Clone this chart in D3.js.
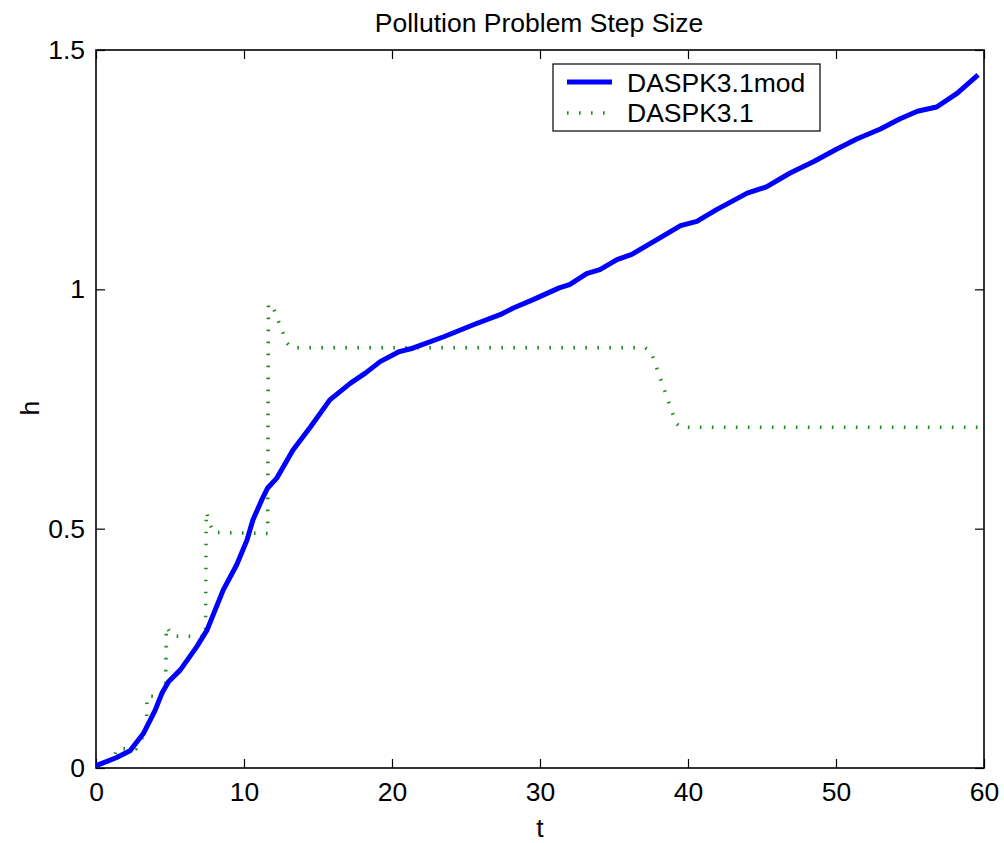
<!DOCTYPE html>
<html><head><meta charset="utf-8">
<script src="https://cdn.jsdelivr.net/npm/d3@7"></script>
<style>body{margin:0;background:#fff}svg{display:block}text{font-family:"Liberation Sans",Arial,sans-serif;fill:#000}</style>
</head><body><svg id="c" width="1004" height="843"></svg>
<script>
const modT = [0, 0.1, 1.4, 2.3, 3.2, 4.0, 4.45, 4.9, 5.7, 6.8, 7.5, 8.6, 9.5, 10.2, 10.6, 11.2, 11.6, 12.2, 13.3, 14.5, 15.8, 17.2, 18.2, 19.2, 20.5, 21.4, 23.5, 25.5, 27.3, 28.2, 29.5, 31.3, 32.0, 33.15, 34.05, 35.2, 36.2, 37.9, 39.5, 40.6, 41.9, 44.0, 45.3, 46.9, 48.5, 50.0, 51.4, 53.0, 54.3, 55.5, 56.8, 58.2, 59.6];
const modH = [0.004, 0.006, 0.022, 0.036, 0.072, 0.121, 0.156, 0.18, 0.205, 0.253, 0.288, 0.372, 0.424, 0.476, 0.518, 0.56, 0.585, 0.605, 0.664, 0.713, 0.769, 0.804, 0.825, 0.849, 0.87, 0.877, 0.901, 0.926, 0.947, 0.961, 0.978, 1.003, 1.01, 1.033, 1.041, 1.062, 1.073, 1.104, 1.133, 1.142, 1.166, 1.201, 1.214, 1.243, 1.267, 1.292, 1.314, 1.335, 1.356, 1.372, 1.381, 1.41, 1.448];
const stdT = [0, 0.6, 1.2, 1.4, 2.7, 2.9, 3.4, 3.45, 4.3, 4.7, 4.75, 5.2, 7.4, 7.45, 7.9, 11.6, 11.65, 12.0, 12.9, 13.2, 37.1, 37.5, 39.2, 39.5, 60];
const stdH = [0.005, 0.01, 0.02, 0.04, 0.04, 0.05, 0.08, 0.15, 0.15, 0.16, 0.295, 0.275, 0.275, 0.535, 0.492, 0.49, 0.97, 0.96, 0.888, 0.878, 0.878, 0.87, 0.72, 0.712, 0.712];
const xTicks = [0, 10, 20, 30, 40, 50, 60];
const yTicks = [0, 0.5, 1, 1.5];
const seriesNames = ["DASPK3.1mod", "DASPK3.1"];
const titleText = "Pollution Problem Step Size";

const L = 96, R = 984, T = 50, B = 768;
const svg = d3.select("#c");
const x = d3.scaleLinear().domain([0, 60]).range([L, R]);
const y = d3.scaleLinear().domain([0, 1.5]).range([B, T]);
const fs = 26.5;

const gx = svg.append("g").attr("transform", `translate(0,${B})`)
  .call(d3.axisBottom(x).tickValues(xTicks).tickFormat(d3.format("d")).tickSizeInner(-9).tickSizeOuter(0).tickPadding(14));
const gxTop = svg.append("g").attr("transform", `translate(0,${T})`)
  .call(d3.axisTop(x).tickValues(xTicks).tickFormat("").tickSizeInner(-9).tickSizeOuter(0));
const gy = svg.append("g").attr("transform", `translate(${L},0)`)
  .call(d3.axisLeft(y).tickValues(yTicks).tickFormat(d => d3.format("")(d)).tickSizeInner(-9).tickSizeOuter(0).tickPadding(11));
const gyR = svg.append("g").attr("transform", `translate(${R},0)`)
  .call(d3.axisRight(y).tickValues(yTicks).tickFormat("").tickSizeInner(-9).tickSizeOuter(0));
[gx, gxTop, gy, gyR].forEach(g => {
  g.select(".domain").remove();
  g.selectAll("line").attr("stroke", "#000").attr("stroke-width", 1.2);
  g.selectAll("text").style("font-size", fs + "px").attr("fill", "#000");
});

svg.append("rect").attr("x", L).attr("y", T).attr("width", R - L).attr("height", B - T)
  .attr("fill", "none").attr("stroke", "#000").attr("stroke-width", 1.6);

const line = d3.line().x(d => x(d[0])).y(d => y(d[1]));
svg.append("clipPath").attr("id", "clp").append("rect").attr("x", L).attr("y", T).attr("width", R - L).attr("height", B - T);
const plot = svg.append("g").attr("clip-path", "url(#clp)");

plot.append("path").datum(stdT.map((t, i) => [t, stdH[i]])).attr("d", line)
  .attr("fill", "none").attr("stroke", "#1f8a1f").attr("stroke-width", 3.5).attr("stroke-dasharray", "1.6 10.4");
plot.append("path").datum(modT.map((t, i) => [t, modH[i]])).attr("d", line)
  .attr("fill", "none").attr("stroke", "#0000ff").attr("stroke-width", 5).attr("stroke-linejoin", "round");

svg.append("text").attr("x", (L + R) / 2 - 1).attr("y", 32).attr("text-anchor", "middle").style("font-size", fs + "px").text(titleText);
svg.append("text").attr("x", (L + R) / 2).attr("y", 837).attr("text-anchor", "middle").style("font-size", fs + "px").text("t");
svg.append("text").attr("transform", "translate(39,408) rotate(-90)").attr("text-anchor", "middle").style("font-size", fs + "px").text("h");

const lg = svg.append("g");
lg.append("rect").attr("x", 553).attr("y", 64).attr("width", 267).attr("height", 67).attr("fill", "#fff").attr("stroke", "#000").attr("stroke-width", 1.2);
lg.append("line").attr("x1", 567).attr("x2", 612).attr("y1", 82).attr("y2", 82).attr("stroke", "#0000ff").attr("stroke-width", 5);
lg.append("line").attr("x1", 567).attr("x2", 614).attr("y1", 113).attr("y2", 113).attr("stroke", "#1f8a1f").attr("stroke-width", 3.5).attr("stroke-dasharray", "1.6 10.4");
lg.append("text").attr("x", 627).attr("y", 92).style("font-size", fs + "px").text(seriesNames[0]);
lg.append("text").attr("x", 627).attr("y", 122).style("font-size", fs + "px").text(seriesNames[1]);
</script></body></html>
